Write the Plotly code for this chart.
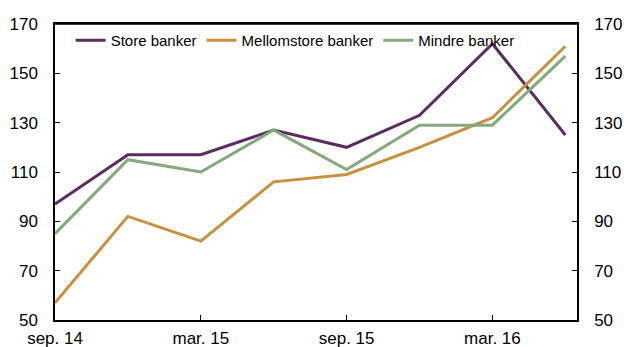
import plotly.graph_objects as go

# Quarterly observations, sep. 2014 – jun. 2016
quarters = ["sep. 14", "des. 14", "mar. 15", "jun. 15", "sep. 15", "des. 15", "mar. 16", "jun. 16"]
store_banker = [97, 117, 117, 127, 120, 133, 162, 125]
mellomstore_banker = [57, 92, 82, 106, 109, 120, 132, 161]
mindre_banker = [85, 115, 110, 127, 111, 129, 129, 157]

x_tick_labels = ["sep. 14", "mar. 15", "sep. 15", "mar. 16"]
y_ticks = [50, 70, 90, 110, 130, 150, 170]

series = [
    ("Store banker", store_banker, "#5a2d5f"),
    ("Mellomstore banker", mellomstore_banker, "#c8913e"),
    ("Mindre banker", mindre_banker, "#84a97c"),
]

idx = list(range(len(quarters)))
fig = go.Figure()
for name, vals, color in series:
    fig.add_trace(go.Scatter(
        x=idx, y=vals, name=name, mode="lines",
        line=dict(color=color, width=3),
    ))

# Transparent copy on the secondary axis so the right-hand scale is drawn
fig.add_trace(go.Scatter(
    x=idx, y=store_banker, yaxis="y2", mode="lines",
    line=dict(color="rgba(0,0,0,0)", width=0),
    showlegend=False, hoverinfo="skip",
))

font = dict(family="Arial, Liberation Sans, sans-serif", size=16, color="#000000")
axis_common = dict(
    ticks="inside", ticklen=5, tickcolor="#000000", tickwidth=1,
    showline=True, linecolor="#000000", linewidth=1.5,
    showgrid=False, zeroline=False, automargin=False,
    tickfont=dict(family="Arial, Liberation Sans, sans-serif", size=17, color="#000000"),
)

fig.update_layout(
    width=624, height=347,
    margin=dict(l=55, r=47, t=24, b=27),
    paper_bgcolor="white", plot_bgcolor="white",
    font=font,
    showlegend=True,
    legend=dict(
        orientation="h", x=0.03, y=1.0, xanchor="left", yanchor="top",
        font=dict(family="Arial, Liberation Sans, sans-serif", size=15, color="#000000"),
        bgcolor="rgba(0,0,0,0)", itemwidth=30, tracegroupgap=0,
    ),
    xaxis=dict(
        range=[0, 7.16],
        tickvals=[0, 2, 4, 6], ticktext=x_tick_labels,
        mirror=True, ticklabelstandoff=2, **axis_common,
    ),
    yaxis=dict(
        range=[50, 170], tickvals=y_ticks,
        ticklabelstandoff=12, **axis_common,
    ),
    yaxis2=dict(
        range=[50, 170], tickvals=y_ticks, overlaying="y", side="right",
        anchor="x", ticklabelstandoff=12, **axis_common,
    ),
    # frame line along the top of the plotting area
    shapes=[dict(type="line", xref="paper", yref="paper", x0=0, x1=1, y0=1, y1=1,
                 line=dict(color="#000000", width=1.5))],
)

fig.write_html("out.html")
